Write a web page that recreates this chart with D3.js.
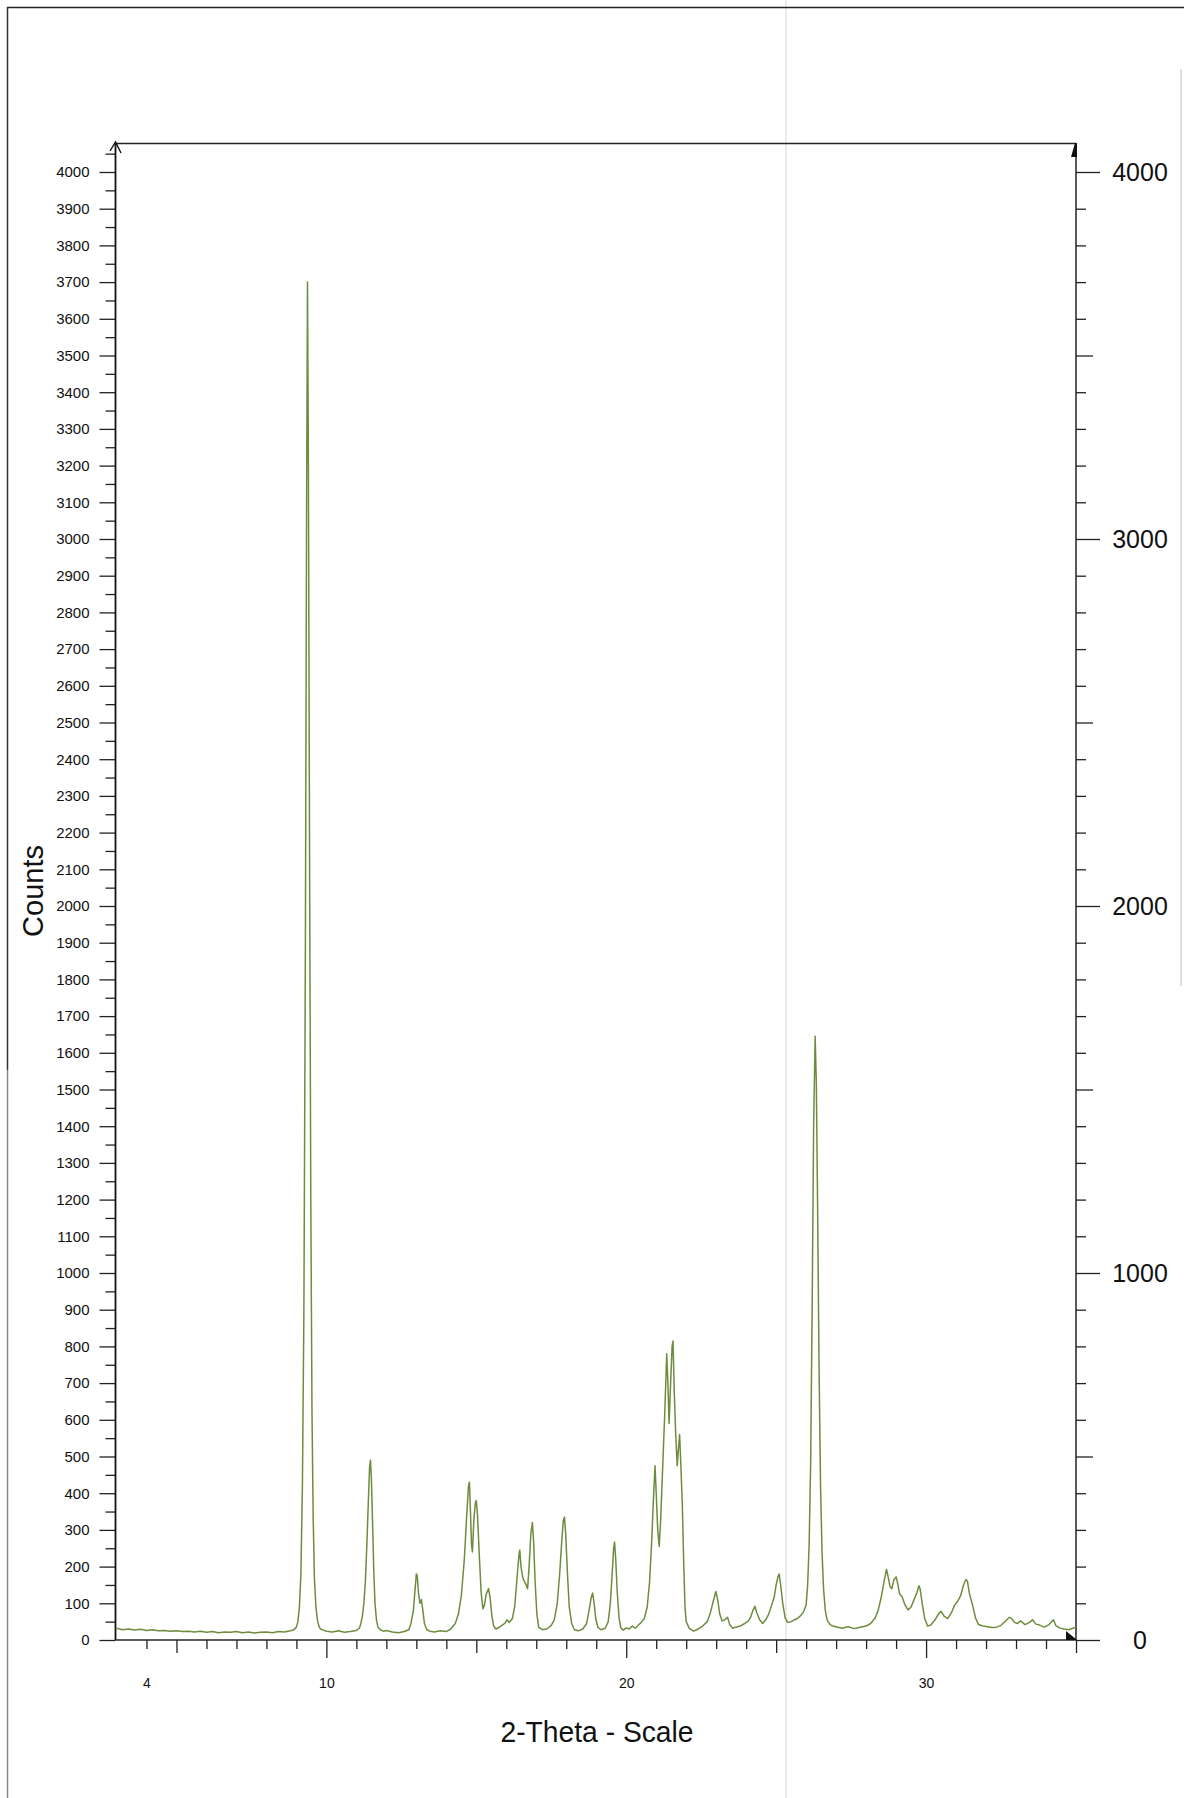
<!DOCTYPE html>
<html>
<head>
<meta charset="utf-8">
<script src="https://cdn.jsdelivr.net/npm/d3@7"></script>
<style>
body { margin: 0; background: #fff; }
svg { display: block; font-family: "Liberation Sans", Arial, sans-serif; }
</style>
</head>
<body>
<svg id="chart"></svg>
<script>
var twoTheta = [
    3.0, 3.2, 3.4, 3.6, 3.8, 4.0, 4.2, 4.4, 4.6, 4.8,
    5.0, 5.2, 5.4, 5.6, 5.8, 6.0, 6.2, 6.4, 6.6, 6.8,
    7.0, 7.2, 7.4, 7.6, 7.8, 8.0, 8.2, 8.4, 8.6, 8.8,
    8.9, 9.0, 9.05, 9.1, 9.15, 9.2, 9.25, 9.3, 9.34, 9.37,
    9.4, 9.44, 9.48, 9.52, 9.56, 9.6, 9.65, 9.7, 9.75, 9.8,
    9.9, 10.0, 10.2, 10.4, 10.6, 10.8, 11.0, 11.1, 11.15, 11.2,
    11.25, 11.3, 11.35, 11.4, 11.44, 11.47, 11.5, 11.54, 11.58, 11.62,
    11.67, 11.72, 11.8, 11.9, 12.0, 12.2, 12.4, 12.6, 12.75, 12.82,
    12.9, 12.96, 13.0, 13.03, 13.07, 13.12, 13.17, 13.21, 13.27, 13.35,
    13.45, 13.6, 13.8, 14.0, 14.15, 14.3, 14.4, 14.5, 14.6, 14.68,
    14.74, 14.77, 14.8, 14.84, 14.87, 14.92, 14.97, 15.0, 15.04, 15.1,
    15.16, 15.22, 15.27, 15.33, 15.41, 15.46, 15.52, 15.58, 15.65, 15.75,
    15.85, 15.95, 16.02, 16.1, 16.2, 16.28, 16.35, 16.42, 16.45, 16.49,
    16.55, 16.6, 16.66, 16.71, 16.76, 16.82, 16.87, 16.91, 16.96, 17.02,
    17.08, 17.2, 17.35, 17.5, 17.6, 17.7, 17.78, 17.85, 17.9, 17.94,
    17.98, 18.04, 18.1, 18.18, 18.27, 18.4, 18.55, 18.68, 18.76, 18.83,
    18.88, 18.93, 18.98, 19.05, 19.15, 19.3, 19.4, 19.47, 19.53, 19.58,
    19.61, 19.65, 19.7, 19.76, 19.82, 19.9, 20.0, 20.1, 20.2, 20.3,
    20.4, 20.5, 20.6, 20.7, 20.78, 20.85, 20.91, 20.96, 21.0, 21.05,
    21.1, 21.15, 21.22, 21.29, 21.35, 21.39, 21.43, 21.48, 21.53, 21.56,
    21.6, 21.65, 21.7, 21.74, 21.78, 21.82, 21.87, 21.92, 21.96, 22.0,
    22.1, 22.25, 22.4, 22.55, 22.7, 22.8, 22.9, 22.99, 23.05, 23.12,
    23.2, 23.28, 23.38, 23.45, 23.55, 23.65, 23.8, 23.95, 24.05, 24.15,
    24.22, 24.29, 24.35, 24.45, 24.55, 24.65, 24.75, 24.85, 24.93, 25.0,
    25.06, 25.1, 25.15, 25.22, 25.3, 25.38, 25.5, 25.6, 25.7, 25.8,
    25.9, 26.0, 26.05, 26.1, 26.15, 26.2, 26.25, 26.3, 26.34, 26.38,
    26.43, 26.48, 26.53, 26.58, 26.64, 26.7, 26.8, 26.9, 27.05, 27.2, 27.4,
    27.6, 27.8, 28.0, 28.15, 28.3, 28.4, 28.5, 28.6, 28.68, 28.74,
    28.8, 28.86, 28.93, 29.0, 29.05, 29.12, 29.2, 29.3, 29.4, 29.5,
    29.6, 29.7, 29.76, 29.8, 29.88, 29.95, 30.05, 30.15, 30.3, 30.42,
    30.5, 30.6, 30.72, 30.85, 30.95, 31.05, 31.15, 31.25, 31.33, 31.38,
    31.45, 31.55, 31.65, 31.75, 31.9, 32.05, 32.2, 32.35, 32.5, 32.65,
    32.78, 32.85, 32.95, 33.05, 33.15, 33.3, 33.45, 33.55, 33.65, 33.8,
    33.95, 34.1, 34.25, 34.32, 34.45, 34.6, 34.75, 34.9, 35.0
]

var counts = [
    32, 28, 30, 27, 29, 26, 28, 25, 26, 24,
    25, 23, 24, 22, 24, 21, 23, 20, 22, 21,
    23, 20, 22, 19, 21, 22, 20, 23, 22, 25,
    27, 35, 50, 90, 180, 420, 900, 1900, 3100, 3700,
    3200, 2100, 1200, 620, 330, 170, 90, 55, 38, 30,
    27, 24, 22, 25, 21, 23, 26, 32, 45, 65,
    100, 160, 260, 380, 470, 490, 440, 320, 190, 100,
    55, 35, 28, 24, 26, 22, 20, 23, 28, 45,
    80, 140, 180, 175, 130, 100, 110, 85, 45, 28,
    24, 22, 25, 23, 30, 45, 70, 120, 220, 340,
    420, 430, 360, 260, 240, 330, 375, 380, 340, 230,
    130, 85, 95, 125, 140, 115, 65, 38, 30, 34,
    40, 45, 55, 48, 58, 90, 160, 230, 245, 200,
    170, 160, 150, 140, 200, 290, 320, 270, 160, 70,
    35, 28, 30, 40, 55, 100, 180, 270, 325, 335,
    290, 180, 90, 45, 28, 25, 30, 45, 80, 115,
    128, 100, 60, 35, 28, 32, 50, 100, 180, 250,
    267, 220, 130, 60, 33, 27, 33, 30, 38, 32,
    40, 48, 58, 90, 160, 270, 390, 475, 400, 300,
    255, 330, 480, 630, 780, 700, 590, 700, 800, 815,
    680, 560, 475, 520, 560, 480, 370, 200, 90, 50,
    32, 24, 30, 38, 50, 72, 105, 132, 110, 70,
    52, 55, 62, 42, 32, 35, 38, 45, 50, 62,
    80, 92, 75, 55, 45, 55, 70, 95, 115, 150,
    172, 180, 150, 100, 60, 48, 50, 55, 58, 65,
    75, 95, 150, 260, 480, 900, 1400, 1645, 1520, 1200,
    750, 420, 240, 140, 80, 55, 42, 38, 35, 32, 36,
    31, 35, 38, 45, 60, 80, 115, 160, 192, 170,
    145, 140, 165, 172, 155, 125, 118, 95, 82, 90,
    110, 130, 148, 140, 95, 60, 38, 40, 55, 72,
    78, 65, 58, 75, 95, 105, 120, 150, 165, 160,
    125, 95, 60, 42, 38, 36, 34, 35, 40, 52,
    62, 58, 48, 45, 52, 42, 48, 55, 44, 40,
    35, 42, 55, 40, 33, 30, 28, 32, 35
]

var leftMajorTicks = d3.range(0, 4001, 100)
var leftMinorTicks = d3.range(50, 4051, 100)
var rightLabelTicks = [0, 1000, 2000, 3000, 4000]
var rightMidTicks = [500, 1500, 2500, 3500]
var rightMinorTicks = leftMajorTicks.filter(d => d % 500 !== 0)
var xMajorTicks = [10, 20, 30]
var xMidTicks = [5, 15, 25, 35]
var xMinorTicks = [4, 6, 7, 8, 9, 11, 12, 13, 14, 16, 17, 18, 19, 21, 22, 23, 24, 26, 27, 28, 29, 31, 32, 33, 34]
var xLabelTicks = [4, 10, 20, 30]

var dimensions = {
    width: 1184,
    height: 1798,
    plot: { left: 115.5, right: 1076, top: 143.5, bottom: 1640 }
}

var dataset = twoTheta.map(function (t, i) {
    return { t: t, c: counts[i] }
})

var svg = d3.select("#chart")
    .attr("width", dimensions.width)
    .attr("height", dimensions.height)

var p = dimensions.plot
var plain = d3.format("d")

var xScale = d3.scaleLinear()
    .domain([3, 35])
    .range([116.5, p.right])

var yScale = d3.scaleLinear()
    .domain([0, 4000])
    .range([p.bottom, 172])

// page frame and scan marks
svg.append("line").attr("x1", 786).attr("x2", 786).attr("y1", 0).attr("y2", 1798)
    .attr("stroke", "#ececec").attr("stroke-width", 2)
svg.append("line").attr("x1", 1181).attr("x2", 1181).attr("y1", 69).attr("y2", 986)
    .attr("stroke", "#d6d6d6").attr("stroke-width", 1.5)
svg.append("line").attr("x1", 7).attr("x2", 1184).attr("y1", 7.5).attr("y2", 7.5)
    .attr("stroke", "#222").attr("stroke-width", 1.5)
svg.append("line").attr("x1", 7.5).attr("x2", 7.5).attr("y1", 7).attr("y2", 1070)
    .attr("stroke", "#333").attr("stroke-width", 1.5)
svg.append("line").attr("x1", 7.5).attr("x2", 7.5).attr("y1", 1070).attr("y2", 1798)
    .attr("stroke", "#888").attr("stroke-width", 1.5)

function styleAxis(g) {
    g.select(".domain").remove()
    g.selectAll(".tick line").attr("stroke", "#222").attr("stroke-width", 1.3)
    g.attr("font-family", null).attr("font-size", null)
}

// left axis
svg.append("g")
    .attr("transform", "translate(" + p.left + ",0)")
    .call(d3.axisLeft(yScale).tickValues(leftMajorTicks).tickFormat(plain).tickSize(16).tickPadding(10))
    .call(styleAxis)
    .selectAll("text")
    .attr("font-size", "15px")
    .attr("fill", "#111")

svg.append("g")
    .attr("transform", "translate(" + p.left + ",0)")
    .call(d3.axisLeft(yScale).tickValues(leftMinorTicks).tickSize(10).tickFormat(""))
    .call(styleAxis)

// right axis
svg.append("g")
    .attr("transform", "translate(" + p.right + ",0)")
    .call(d3.axisRight(yScale).tickValues(rightLabelTicks).tickFormat(plain).tickSize(24).tickPadding(10))
    .call(styleAxis)
    .selectAll("text")
    .attr("x", 64)
    .attr("text-anchor", "middle")
    .attr("font-size", "25px")
    .attr("fill", "#111")

svg.append("g")
    .attr("transform", "translate(" + p.right + ",0)")
    .call(d3.axisRight(yScale).tickValues(rightMidTicks).tickSize(17).tickFormat(""))
    .call(styleAxis)

svg.append("g")
    .attr("transform", "translate(" + p.right + ",0)")
    .call(d3.axisRight(yScale).tickValues(rightMinorTicks).tickSize(10).tickFormat(""))
    .call(styleAxis)

// bottom axis
svg.append("g")
    .attr("transform", "translate(0," + p.bottom + ")")
    .call(d3.axisBottom(xScale).tickValues(xMajorTicks).tickSize(18).tickFormat(""))
    .call(styleAxis)

svg.append("g")
    .attr("transform", "translate(0," + p.bottom + ")")
    .call(d3.axisBottom(xScale).tickValues(xMidTicks).tickSize(13).tickFormat(""))
    .call(styleAxis)

svg.append("g")
    .attr("transform", "translate(0," + p.bottom + ")")
    .call(d3.axisBottom(xScale).tickValues(xMinorTicks).tickSize(9).tickFormat(""))
    .call(styleAxis)

svg.append("g")
    .attr("transform", "translate(0," + p.bottom + ")")
    .call(d3.axisBottom(xScale).tickValues(xLabelTicks).tickFormat(plain).tickSize(0).tickPadding(38))
    .call(styleAxis)
    .selectAll("text")
    .attr("font-size", "14px")
    .attr("fill", "#111")

// frame lines
svg.append("line").attr("x1", p.left).attr("x2", p.right).attr("y1", p.top).attr("y2", p.top)
    .attr("stroke", "#2a2222").attr("stroke-width", 1.6)
svg.append("line").attr("x1", p.left).attr("x2", p.left).attr("y1", p.top).attr("y2", p.bottom)
    .attr("stroke", "#111").attr("stroke-width", 1.8)
svg.append("line").attr("x1", p.right).attr("x2", p.right).attr("y1", p.top).attr("y2", p.bottom)
    .attr("stroke", "#222").attr("stroke-width", 1.5)
svg.append("line").attr("x1", p.left).attr("x2", p.right).attr("y1", p.bottom).attr("y2", p.bottom)
    .attr("stroke", "#2a2222").attr("stroke-width", 1.6)

svg.append("path")
    .attr("d", "M110,151 L115.5,142 L121,153")
    .attr("fill", "none").attr("stroke", "#111").attr("stroke-width", 1.4)
svg.append("path")
    .attr("d", "M1071,157 L1075,143 L1077,143 L1077,157 Z")
    .attr("fill", "#111")
svg.append("path")
    .attr("d", "M1066,1631 L1077,1640 L1066,1640 Z")
    .attr("fill", "#111")

// data
var line = d3.line()
    .x(d => xScale(d.t))
    .y(d => yScale(d.c))

svg.append("path")
    .datum(dataset)
    .attr("d", line)
    .attr("fill", "none")
    .attr("stroke", "#6f8c3e")
    .attr("stroke-width", 1.5)
    .attr("stroke-linejoin", "round")

// titles
svg.append("text")
    .attr("transform", "translate(43,891) rotate(-90)")
    .attr("text-anchor", "middle")
    .attr("font-size", "29px")
    .attr("fill", "#111")
    .text("Counts")

svg.append("text")
    .attr("x", 597)
    .attr("y", 1742)
    .attr("text-anchor", "middle")
    .attr("font-size", "30px")
    .attr("textLength", 193)
    .attr("lengthAdjust", "spacingAndGlyphs")
    .attr("fill", "#111")
    .text("2-Theta - Scale")
</script>
</body>
</html>
